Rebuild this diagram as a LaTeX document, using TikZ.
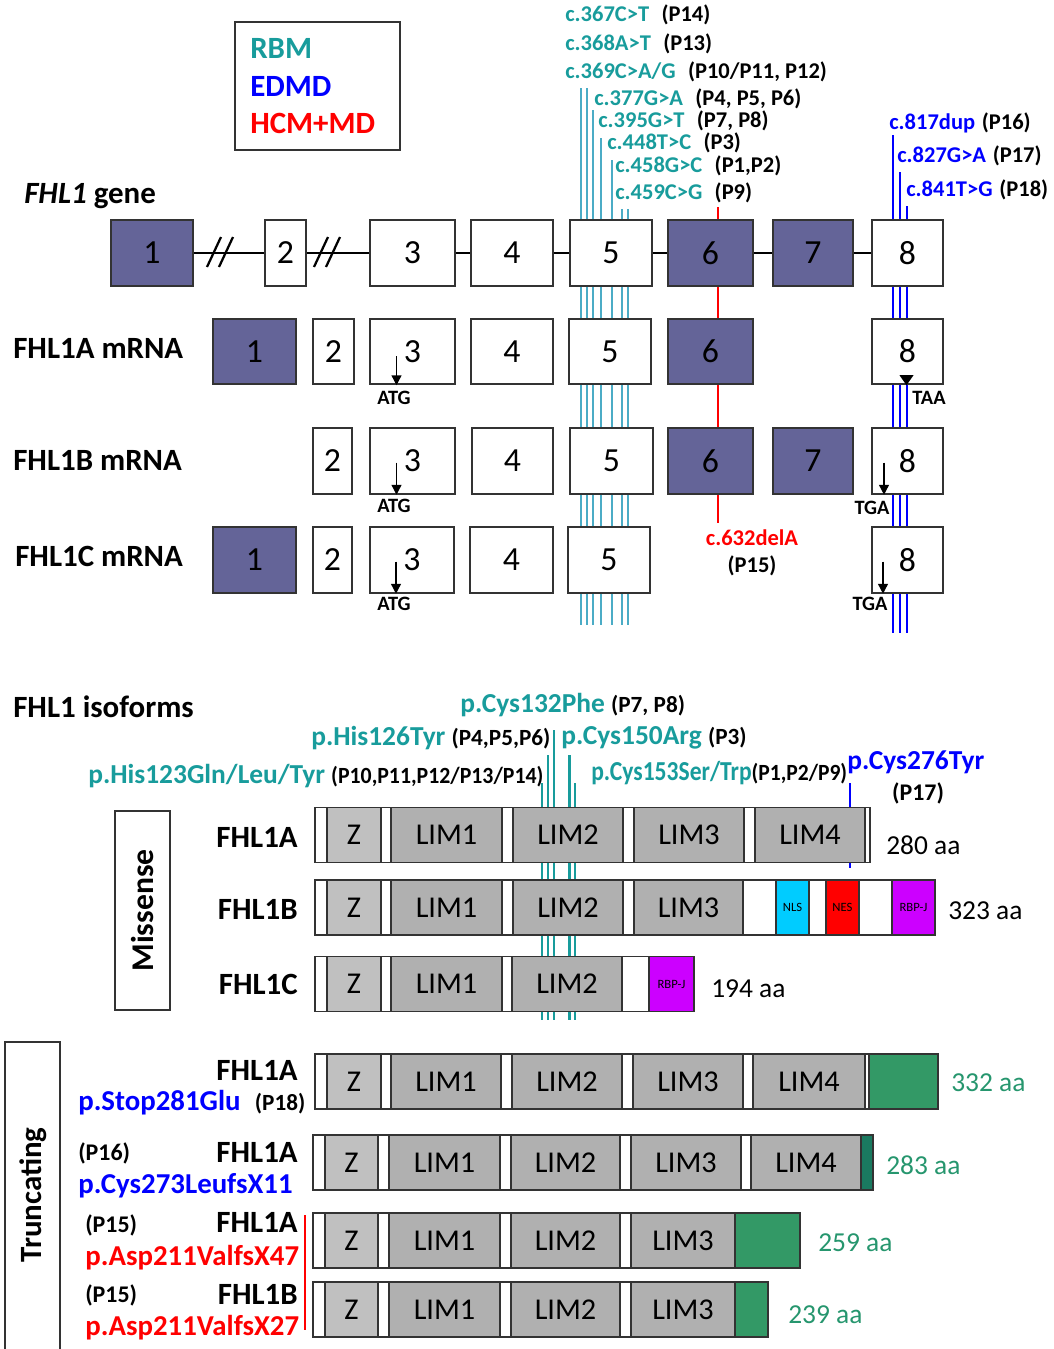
\documentclass[tikz,border=0pt]{standalone}
\usepackage{fontspec}
\setmainfont{Carlito}
\usepackage{xcolor}
\usepackage{tikz}
\usetikzlibrary{fit}
\usetikzlibrary{arrows.meta}
\usetikzlibrary{positioning}

\definecolor{exonfill}{RGB}{100,100,152}
\definecolor{rbm}{RGB}{24,156,156}
\definecolor{rbmline}{RGB}{75,172,198}
\definecolor{edmd}{RGB}{0,0,255}
\definecolor{hcm}{RGB}{255,0,0}
\definecolor{zgray}{RGB}{192,192,192}
\definecolor{limgray}{RGB}{176,176,176}
\definecolor{tailgreen}{RGB}{51,153,102}
\definecolor{tailteal}{RGB}{26,122,96}
\definecolor{aagreen}{RGB}{38,150,110}
\definecolor{nls}{RGB}{0,204,255}
\definecolor{nes}{RGB}{255,0,0}
\definecolor{rbpj}{RGB}{204,0,255}

\newcommand{\pat}[1]{\textcolor{black}{\fontsize{16.5}{19}\selectfont #1}}

\begin{document}
\begin{tikzpicture}[
  x=0.025cm, y=-0.025cm,
  wd/.style={minimum width=(#1)*0.025cm},
  exon/.style={draw=black!80, line width=1.3pt, fill=white, inner sep=0pt, minimum height=1.64cm,
    font=\fontsize{24}{28}\selectfont},
  bar/.style={draw=black!80, line width=1pt, fill=white, inner sep=0pt, minimum height=1.37cm},
  dom/.style={bar, font=\fontsize{21.5}{25}\selectfont},
  tag/.style={dom, font=\fontsize{9}{10}\selectfont},
  title/.style={font=\bfseries\fontsize{22}{26}\selectfont, inner sep=0pt},
  mut/.style={font=\bfseries\fontsize{16}{19}\selectfont, anchor=west, inner sep=0pt},
  pmut/.style={font=\bfseries\fontsize{19.5}{23}\selectfont, anchor=west, inner sep=0pt},
  tmut/.style={font=\bfseries\fontsize{20.5}{24}\selectfont, anchor=west, inner sep=0pt},
  pnum/.style={font=\bfseries\fontsize{17}{20}\selectfont, anchor=west, inner sep=0pt},
  aa/.style={font=\fontsize{19.5}{23}\selectfont, anchor=west, inner sep=0pt},
  codon/.style={font=\bfseries\fontsize{14.5}{17}\selectfont, inner sep=0pt},
  start/.style={line width=1pt, -{Triangle[width=7pt,length=7pt]}},
  gline/.style={line width=2pt},
  rbmmark/.style={rbmline, line width=1.4pt},
  rbmpmark/.style={rbm, line width=1.8pt},
  edmdmark/.style={edmd, line width=1.6pt},
  hcmmark/.style={hcm, line width=1.4pt}]
\useasboundingbox (0,0) rectangle (1053,1349);
\fill[white] (0,0) rectangle (1053,1349);

\node[draw=black!80, line width=1pt, inner sep=0pt, fit={(235,22) (400,150)}] (legend) {};
\node[title, anchor=west, text=rbm] (lgRBM) at (250,48) {RBM};
\node[title, anchor=west, text=edmd] (lgEDMD) at (250,86) {EDMD};
\node[title, anchor=west, text=hcm] (lgHCM) at (250,123) {HCM+MD};

\node[title, anchor=west] (lblG) at (24,196) {\itshape FHL1\/\upshape{} gene};
\node[title, anchor=west] (lblA) at (13,348) {FHL1A mRNA};
\node[title, anchor=west] (lblB) at (13,460) {FHL1B mRNA};
\node[title, anchor=west] (lblC) at (15,556) {FHL1C mRNA};

\foreach \x/\t in {581/88, 587/88, 593/110, 601/138, 612/160, 622/209, 628/209}
  \draw[rbmmark] (\x,\t) -- (\x,625);
\draw[hcmmark] (718,207) -- (718,523);
\foreach \x/\t in {893/135, 900/172, 907/206}
  \draw[edmdmark] (\x,\t) -- (\x,633);

\foreach \x/\y/\c/\p [count=\i] in {565/15/c.367C>T/(P14), 565/44/c.368A>T/(P13),
    565/72/{c.369C>A/G}/{(P10/P11, P12)}, 594/99/c.377G>A/{(P4, P5, P6)},
    598/121/c.395G>T/{(P7, P8)}, 607/143/c.448T>C/(P3),
    615/166/c.458G>C/{(P1,P2)}, 615/193/c.459C>G/(P9)}
  \node[mut, text=rbm] (cm\i) at (\x,\y) {\c\hspace{0.55em}\textcolor{black}{\p}};
\foreach \x/\y/\c/\p [count=\i] in {889/123/c.817dup/(P16), 897/156/c.827G>A/(P17), 906/190/c.841T>G/(P18)}
  \node[mut, text=edmd] (ce\i) at (\x,\y) {\c\hspace{0.3em}\textcolor{black}{\p}};
\node[mut, anchor=center, text=hcm] (ch1) at (752,538) {c.632delA};
\node[mut, anchor=center] (ch1p) at (752,566) {(P15)};

\foreach \n/\a/\b/\f in {1/111/193/exonfill, 2/265/306/white, 3/370/455/white, 4/471/553/white,
    5/570/652/white, 6/668/753/exonfill, 7/773/853/exonfill, 8/872/943/white}
  \node[exon, fill=\f, wd=\b-\a] (g\n) at ({(\a+\b)/2},253) {\n};
\foreach \i [count=\j from 2] in {1,...,7}
  \draw[gline] (g\i) -- (g\j);
\foreach \c in {224,331}
  \draw[gline, line width=1.6pt] (\c-17,267) -- (\c-3,237) (\c-5,267) -- (\c+9,237);

\foreach \n/\a/\b/\f in {1/213/296/exonfill, 2/313/354/white, 3/370/455/white, 4/471/553/white,
    5/569/651/white, 6/668/753/exonfill, 8/872/943/white}
  \node[exon, fill=\f, wd=\b-\a] (a\n) at ({(\a+\b)/2},351.5) {\n};
\draw[start] (a3.south) ++(-16,-29) -- ++(0,29);
\node[codon] (atgA) at (394,398) {ATG};
\fill (a8.south) ++(-8,-10) -- ++(14,0) -- ++(-7,10) -- cycle;
\node[codon] (taa) at (929,398) {TAA};

\foreach \n/\a/\b/\f in {2/313/352/white, 3/370/455/white, 4/472/553/white, 5/570/653/white,
    6/668/753/exonfill, 7/773/853/exonfill, 8/872/943/white}
  \node[exon, fill=\f, wd=\b-\a] (b\n) at ({(\a+\b)/2},461) {\n};
\draw[start] (b3.south) ++(-16,-32) -- ++(0,32);
\node[codon] (atgB) at (394,506) {ATG};
\draw[start] (b8.south) ++(-23.5,-32) -- ++(0,32);
\node[codon] (tgaB) at (872,508) {TGA};

\foreach \n/\a/\b/\f in {1/213/296/exonfill, 2/313/352/white, 3/370/454/white, 4/470/553/white,
    5/568/650/white, 8/872/943/white}
  \node[exon, fill=\f, wd=\b-\a] (c\n) at ({(\a+\b)/2},560) {\n};
\draw[start] (c3.south) ++(-16,-32) -- ++(0,32);
\node[codon] (atgC) at (394,604) {ATG};
\draw[start] (c8.south) ++(-24.5,-32) -- ++(0,32);
\node[codon] (tgaC) at (870,604) {TGA};

\node[title, anchor=west] (lblP) at (13,707) {FHL1 isoforms};

\foreach \x/\t in {542/783, 548/755, 554/730, 569.5/755, 575/783}
  \draw[rbmpmark] (\x,\t) -- (\x,1020);
\draw[edmdmark, line width=2pt] (850,783) -- (850,868);

\node[pmut, text=rbm] (pm1) at (460,705) {p.Cys132Phe \pat{(P7, P8)}};
\node[pmut, text=rbm] (pm2) at (311,738) {p.His126Tyr \pat{(P4,P5,P6)}};
\node[pmut, text=rbm] (pm3) at (561,738) {p.Cys150Arg \pat{(P3)}};
\node[pmut, text=rbm] (pm4) at (88,776) {p.His123Gln/Leu/Tyr \scalebox{0.94}[1]{\pat{(P10,P11,P12/P13/P14)}}};
\node[pmut, text=rbm] (pm5) at (591,773) {\scalebox{0.86}[1]{p.Cys153Ser/Trp}\scalebox{0.93}[1]{\pat{(P1,P2/P9)}}};
\node[pmut, text=edmd] (pm6) at (847,762) {p.Cys276Tyr};
\node[pnum, anchor=center] (pm6p) at (918,793) {(P17)};

\node[draw=black!80, line width=1pt, inner sep=0pt, fit={(115,811) (170,1010)}] (missbox) {};
\node[title, rotate=90, font=\bfseries\fontsize{22.5}{26}\selectfont] (miss) at (missbox.center) {Missense};
\node[draw=black!80, line width=1pt, inner sep=0pt, fit={(5,1042) (60,1370)}] (truncbox) {};
\node[title, rotate=90] (trunc) at (33,1195) {Truncating};

\node[title, anchor=east] (mlA) at (298,837) {FHL1A};
\node[title, anchor=east] (mlB) at (298,909) {FHL1B};
\node[title, anchor=east] (mlC) at (298,984) {FHL1C};

\node[bar, wd=870-315] (mA) at (592.5,835) {};
\foreach \a/\b/\f/\t [count=\i] in {327/381/zgray/Z, 391/502/limgray/LIM1, 513/623/limgray/LIM2,
    634/744/limgray/LIM3, 755/865/limgray/LIM4}
  \node[dom, fill=\f, wd=\b-\a] (mA\i) at ({(\a+\b)/2},835) {\t};
\node[aa] (aaA) at (886,845) {280 aa};

\node[bar, wd=935-315] (mB) at (625,907.5) {};
\foreach \a/\b/\f/\t [count=\i] in {327/381/zgray/Z, 391/502/limgray/LIM1, 513/623/limgray/LIM2,
    634/743/limgray/LIM3}
  \node[dom, fill=\f, wd=\b-\a] (mB\i) at ({(\a+\b)/2},907.5) {\t};
\foreach \a/\b/\f/\t [count=\i] in {776/809/nls/NLS, 826/859/nes/NES, 892/935/rbpj/RBP-J}
  \node[tag, fill=\f, wd=\b-\a] (mBt\i) at ({(\a+\b)/2},907.5) {\t};
\node[aa] (aaB) at (948,911) {323 aa};

\node[bar, wd=694-315] (mC) at (504.5,984) {};
\foreach \a/\b/\f/\t [count=\i] in {327/381/zgray/Z, 391/502/limgray/LIM1, 512/622/limgray/LIM2}
  \node[dom, fill=\f, wd=\b-\a] (mC\i) at ({(\a+\b)/2},984) {\t};
\node[tag, fill=rbpj, wd=694-649] (mCt1) at (671.5,984) {RBP-J};
\node[aa] (aaC) at (711,989) {194 aa};

\node[title, anchor=east] (tlA) at (298,1070) {FHL1A};
\node[tmut, text=edmd] (tpA) at (78,1103) {p.Stop281Glu\hspace{0.5em}\pat{(P18)}};
\node[bar, wd=938-315] (tA) at (626.5,1081.5) {};
\foreach \a/\b/\f/\t [count=\i] in {327/381/zgray/Z, 391/501/limgray/LIM1, 512/622/limgray/LIM2,
    633/743/limgray/LIM3, 753/865/limgray/LIM4, 869/938/tailgreen/{}}
  \node[dom, fill=\f, wd=\b-\a] (tA\i) at ({(\a+\b)/2},1081.5) {\t};
\node[aa, text=aagreen] (aaTA) at (951,1083) {332 aa};

\node[pnum] (tnB) at (78,1153) {(P16)};
\node[title, anchor=east] (tlB) at (298,1152) {FHL1A};
\node[tmut, text=edmd] (tpB) at (78,1186) {p.Cys273LeufsX11};
\node[bar, wd=873-313] (tB) at (593,1162.5) {};
\foreach \a/\b/\f/\t [count=\i] in {325/378/zgray/Z, 389/500/limgray/LIM1, 511/620/limgray/LIM2,
    631/741/limgray/LIM3, 751/861/limgray/LIM4, 861/873/tailteal/{}}
  \node[dom, fill=\f, wd=\b-\a] (tB\i) at ({(\a+\b)/2},1162.5) {\t};
\node[aa, text=aagreen] (aaTB) at (886,1165) {283 aa};

\node[pnum] (tnC) at (85,1225) {(P15)};
\node[title, anchor=east] (tlC) at (298,1222) {FHL1A};
\node[tmut, text=hcm] (tpC) at (85,1258) {p.Asp211ValfsX47};
\node[bar, wd=800-313] (tC) at (556.5,1240.5) {};
\foreach \a/\b/\f/\t [count=\i] in {325/378/zgray/Z, 389/500/limgray/LIM1, 511/620/limgray/LIM2,
    631/735/limgray/LIM3, 735/800/tailgreen/{}}
  \node[dom, fill=\f, wd=\b-\a] (tC\i) at ({(\a+\b)/2},1240.5) {\t};
\node[aa, text=aagreen] (aaTC) at (818,1243) {259 aa};

\node[pnum] (tnD) at (85,1295) {(P15)};
\node[title, anchor=east] (tlD) at (298,1294) {FHL1B};
\node[tmut, text=hcm] (tpD) at (85,1328) {p.Asp211ValfsX27};
\node[bar, wd=768-313] (tD) at (540.5,1309.5) {};
\foreach \a/\b/\f/\t [count=\i] in {325/378/zgray/Z, 389/500/limgray/LIM1, 511/620/limgray/LIM2,
    631/735/limgray/LIM3, 735/768/tailgreen/{}}
  \node[dom, fill=\f, wd=\b-\a] (tD\i) at ({(\a+\b)/2},1309.5) {\t};
\node[aa, text=aagreen] (aaTD) at (788,1315) {239 aa};

\draw[hcm, line width=2pt] (305,1215) -- (305,1330);
\end{tikzpicture}
\end{document}
